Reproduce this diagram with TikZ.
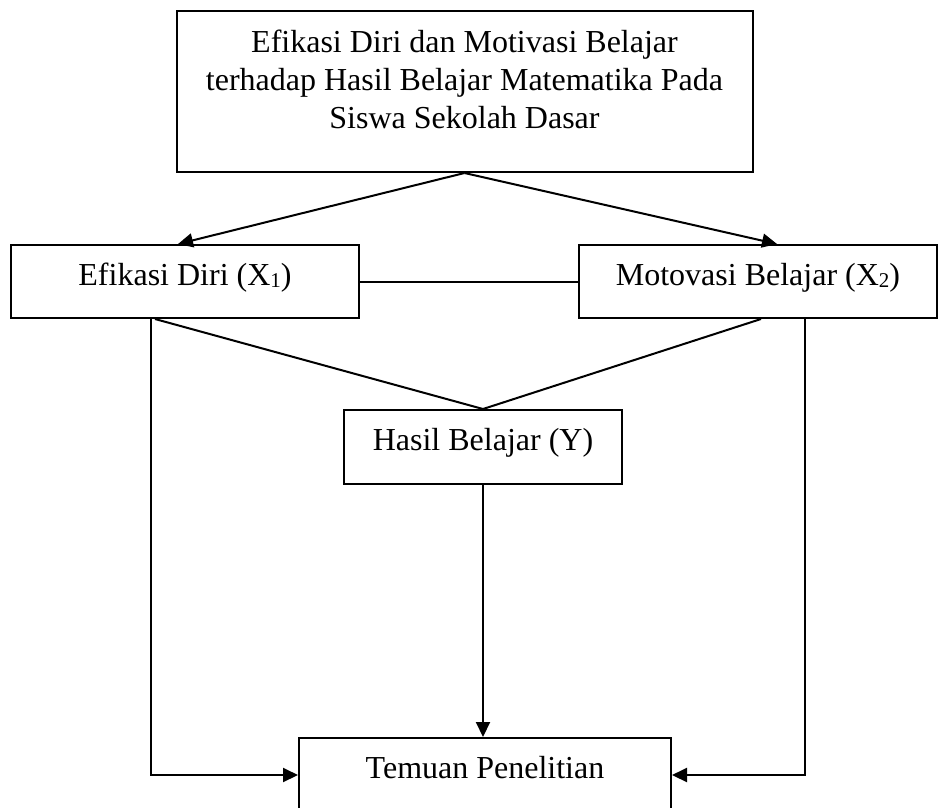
\documentclass[tikz,border=0pt]{standalone}
\usepackage{fontspec}
\setmainfont{Liberation Serif}
\usetikzlibrary{arrows.meta}
\newcommand{\lowsub}[1]{\raisebox{-0.15ex}{\fontsize{21}{21}\selectfont #1}}
\begin{document}
\begin{tikzpicture}[x=1pt,y=-1pt,
  box/.style={draw, line width=2pt, inner sep=0pt, text height=22pt, text depth=15pt,
    font=\fontsize{32}{38}\selectfont},
  txt/.style={inner sep=0pt, font=\fontsize{32}{38}\selectfont, align=center},
  conn/.style={line width=2pt},
  arr/.style={conn, -{Triangle[length=15pt,width=14pt]}}]
\useasboundingbox (0,0) rectangle (945,807);
% boxes
\node[draw, line width=2pt, inner sep=0pt, minimum width=576, minimum height=161] (top) at (464.5,91.5) {};
\node[txt, anchor=north] (toptext) at (464.5,30) {Efikasi Diri dan Motivasi Belajar\\terhadap Hasil Belajar Matematika Pada\\Siswa Sekolah Dasar};
\node[box, minimum width=348, minimum height=73] (e1) at (185,281.5) {Efikasi Diri (X\lowsub{1})};
\node[box, minimum width=358, minimum height=73] (m2) at (758,281.5) {Motovasi Belajar (X\lowsub{2})};
\node[box, minimum width=278, minimum height=74] (hb) at (483,447) {Hasil Belajar (Y)};
\node[box, minimum width=372, minimum height=74] (tp) at (485,775) {Temuan Penelitian};
% connectors
\draw[arr] (top.south) -- ([xshift=-7]e1.north);
\draw[arr] (top.south) -- ([xshift=19]m2.north);
\draw[conn] (e1.east) -- (m2.west);
\draw[conn] ([xshift=-30]e1.south) -- (hb.north);
\draw[conn] ([xshift=3]m2.south) -- (hb.north);
\draw[arr] ([xshift=-34]e1.south) |- (tp.west);
\draw[arr] ([xshift=47]m2.south) |- (tp.east);
\draw[arr] (hb.south) -- (hb.south |- tp.north);
\end{tikzpicture}
\end{document}
